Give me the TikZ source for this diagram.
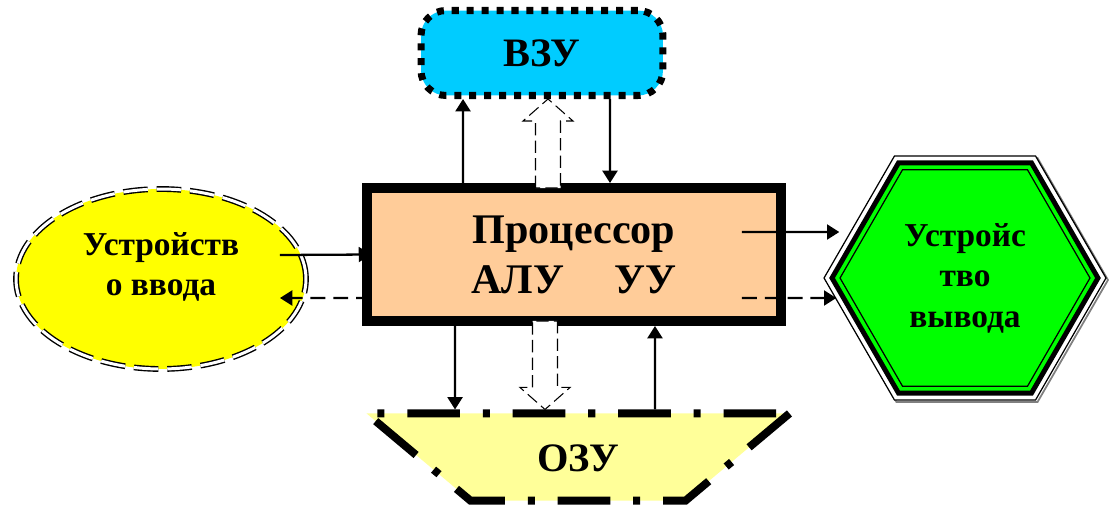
\documentclass[tikz,border=0pt]{standalone}
\usepackage{fontspec}
\setmainfont{Liberation Serif}
\usetikzlibrary{shapes.geometric, arrows.meta, calc}

\definecolor{vzucol}{HTML}{00CCFF}
\definecolor{cpucol}{HTML}{FFCC99}
\definecolor{incol}{HTML}{FFFF00}
\definecolor{outcol}{HTML}{00FF00}
\definecolor{ozucol}{HTML}{FFFF99}

% hollow dashed bus arrow: #1 head base, #2 foot, #3 tip
\newcommand{\busarrow}[3]{%
  \coordinate (#1) at ($(#3)!0.44cm!(#2)$);
  \draw[bus] ($(#2)!0.25cm!90:(#3)$) -- ($(#1)!0.25cm!90:(#3)$)
    -- ($(#1)!0.5cm!90:(#3)$) -- (#3) -- ($(#1)!0.5cm!-90:(#3)$)
    -- ($(#1)!0.25cm!-90:(#3)$) -- ($(#2)!0.25cm!-90:(#3)$) -- cycle;}

\begin{document}
\begin{tikzpicture}[x=0.02cm, y=-0.02cm, font=\bfseries]
    \tikzset{
        vzubox/.style={draw, fill=vzucol, rounded corners=0.5cm, line width=4pt,
            dash pattern=on 4pt off 4.5pt, minimum width=4.84cm, minimum height=1.7cm,
            font=\fontsize{23}{27}\selectfont\bfseries},
        cpubox/.style={draw, fill=cpucol, line width=0.2cm, align=center,
            minimum width=8.28cm, minimum height=2.66cm,
            font=\fontsize{24}{28.4}\selectfont\bfseries},
        inbox/.style={ellipse, draw, fill=incol, line width=0.8pt, double=white,
            double distance=1.7pt, dash pattern=on 14pt off 5pt,
            minimum width=5.8cm, minimum height=3.6cm, inner sep=0pt},
        devtext/.style={align=center, inner sep=0pt,
            font=\fontsize{19}{23}\selectfont\bfseries},
        hexring/.style={regular polygon, regular polygon sides=6, draw,
            line width=0.7pt, inner sep=0pt},
        ozubox/.style={trapezium, draw, fill=ozucol, line width=4.5pt,
            trapezium left angle=40, trapezium right angle=40,
            shape border rotate=180, trapezium stretches body=true,
            dash pattern=on 30pt off 13pt on 4pt off 13pt,
            minimum width=8.46cm, text height=16pt, text depth=0pt, inner ysep=16.8pt,
            font=\fontsize{23}{27}\selectfont\bfseries},
        wire/.style={line width=1.3pt, -{Triangle[length=7pt,width=8.5pt]}},
        dwire/.style={wire, dash pattern=on 8.5pt off 4.5pt},
        bus/.style={draw, fill=white, line width=0.6pt, dash pattern=on 7pt off 3pt},
    }
    \useasboundingbox (0,0) rectangle (1109,504);

    \node[vzubox] (vzu) at (542,53) {ВЗУ};
    \node[cpubox] (cpu) at (574,254.5) {Процессор\\АЛУ\hspace{29pt}УУ};
    \node[inbox] (in) at (161,279) {};
    \node[devtext] (inlabel) at ([yshift=0.24cm]in.center) {Устройств\\о ввода};

    \node[hexring, draw=gray, line width=1pt, minimum size=5.64cm] (outshade) at (967,280) {};
    \node[hexring, fill=white, minimum size=5.64cm] (outrim) at (965,278) {};
    \node[hexring, fill=outcol, line width=2.8pt, minimum size=5.32cm] (outband) at (965,278) {};
    \node[hexring, devtext, draw, minimum size=5.0cm] (out) at (965,278) {Устройс\\тво\\вывода};

    \node[ozubox] (ozu) at (578,457) {ОЗУ};

    % processor <-> ВЗУ
    \draw[wire] ([xshift=-2.22cm]cpu.north) -- ([xshift=-1.58cm]vzu.south);
    \draw[wire] ([xshift=1.36cm]vzu.south) -- ([xshift=0.72cm]cpu.north);
    \coordinate (upfoot) at ([xshift=-0.52cm,yshift=-0.1cm]cpu.north);
    \coordinate (uptip) at ([xshift=0.12cm]vzu.south);
    \busarrow{uphead}{upfoot}{uptip}

    % input device <-> processor
    \draw[wire] ([xshift=2.38cm,yshift=0.48cm]in.center) -- ([xshift=0.18cm]cpu.west);
    \draw[dwire] ([xshift=0.18cm,yshift=-0.87cm]cpu.west) -- ([xshift=2.38cm,yshift=-0.38cm]in.center);

    % processor -> output device
    \draw[wire] ([xshift=-0.88cm,yshift=0.45cm]cpu.east) -- ([xshift=0.32cm,yshift=0.92cm]outrim.west);
    \draw[dwire] ([xshift=-0.88cm,yshift=-0.87cm]cpu.east) -- ([xshift=0.26cm,yshift=-0.4cm]outrim.west);

    % processor <-> ОЗУ
    \draw[wire] ([xshift=-2.38cm]cpu.south) -- ([xshift=-2.46cm]ozu.north);
    \draw[wire] ([xshift=1.54cm]ozu.north) -- ([xshift=1.62cm]cpu.south);
    \coordinate (downfoot) at ([xshift=-0.58cm,yshift=0.1cm]cpu.south);
    \coordinate (downtip) at ([xshift=-0.66cm]ozu.north);
    \busarrow{downhead}{downfoot}{downtip}
\end{tikzpicture}
\end{document}
